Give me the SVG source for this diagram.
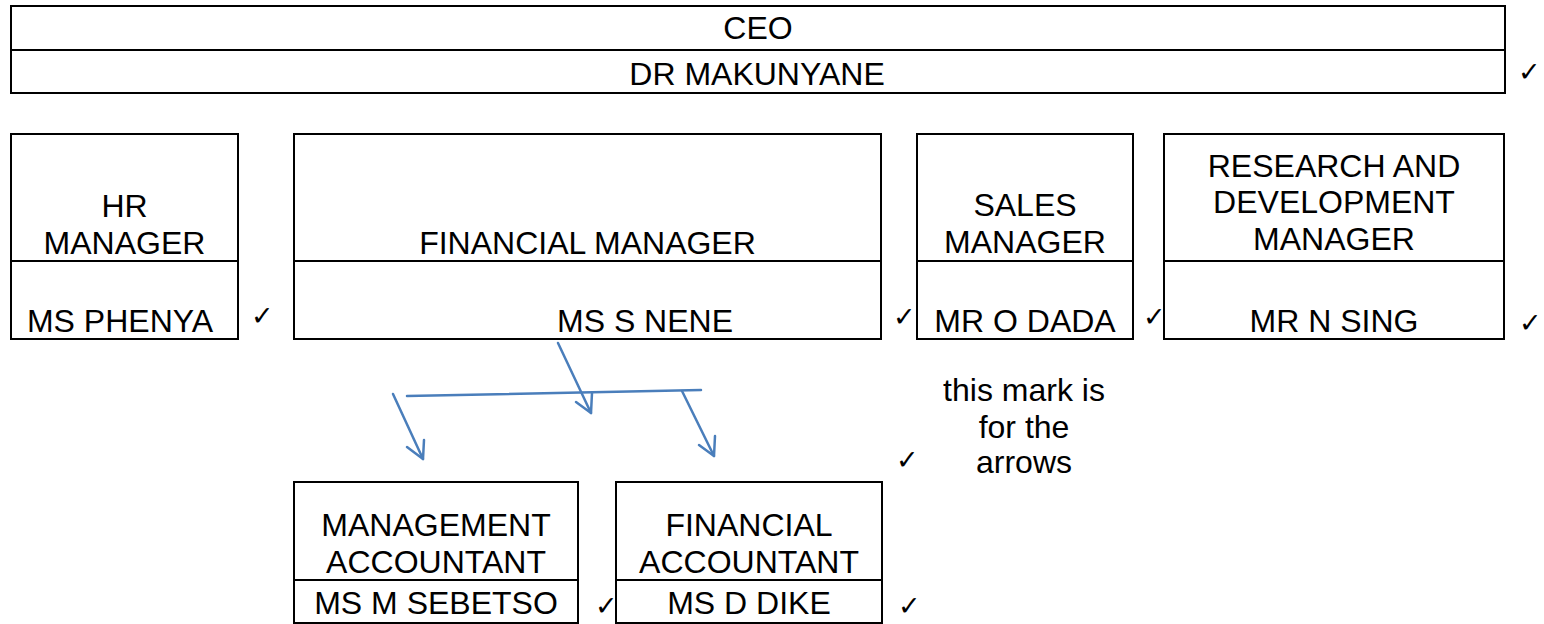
<svg xmlns="http://www.w3.org/2000/svg" width="1544" height="624" viewBox="0 0 1544 624">
<style>
rect.box{fill:#fff;stroke:#000;stroke-width:2}
line.div{stroke:#000;stroke-width:2}
text{font-family:"Liberation Sans",Arial,sans-serif;font-size:32px;fill:#000;text-anchor:middle}
text.ck{font-family:"DejaVu Sans",sans-serif;font-size:27px;text-anchor:start}
.conn line,.conn polyline{stroke:#4A7EBB;stroke-width:2.5;fill:none;stroke-linecap:round;stroke-linejoin:round}
</style>
<rect width="1544" height="624" fill="#fff"/>
<g id="ceo">
<rect class="box" x="11" y="6" width="1494" height="87"/>
<line class="div" x1="11" y1="50" x2="1505" y2="50"/>
<text x="758" y="39">CEO</text>
<text x="757" y="85">DR MAKUNYANE</text>
<text class="ck" x="1518" y="81">✓</text>
</g>
<g id="hr">
<rect class="box" x="11" y="134" width="227" height="205"/>
<line class="div" x1="11" y1="261" x2="238" y2="261"/>
<text x="124.5" y="217">HR</text>
<text x="124.5" y="254">MANAGER</text>
<text x="120" y="332">MS PHENYA</text>
<text class="ck" x="251" y="325">✓</text>
</g>
<g id="financial-manager">
<rect class="box" x="294" y="134" width="587" height="205"/>
<line class="div" x1="294" y1="261" x2="881" y2="261"/>
<text x="587.5" y="254">FINANCIAL MANAGER</text>
<text x="645" y="332">MS S NENE</text>
<text class="ck" x="893" y="326">✓</text>
</g>
<g id="sales">
<rect class="box" x="917" y="134" width="216" height="205"/>
<line class="div" x1="917" y1="261" x2="1133" y2="261"/>
<text x="1025" y="216">SALES</text>
<text x="1025" y="253">MANAGER</text>
<text x="1025" y="332">MR O DADA</text>
<text class="ck" x="1143" y="326">✓</text>
</g>
<g id="rnd">
<rect class="box" x="1164" y="134" width="340" height="205"/>
<line class="div" x1="1164" y1="261" x2="1504" y2="261"/>
<text x="1334" y="177">RESEARCH AND</text>
<text x="1334" y="213">DEVELOPMENT</text>
<text x="1334" y="250">MANAGER</text>
<text x="1334" y="332">MR N SING</text>
<text class="ck" x="1519" y="332">✓</text>
</g>
<g id="note">
<text x="1024" y="401">this mark is</text>
<text x="1024" y="438">for the</text>
<text x="1024" y="473">arrows</text>
<text class="ck" x="896" y="469">✓</text>
</g>
<g id="management-accountant">
<rect class="box" x="294" y="482" width="284" height="141"/>
<line class="div" x1="294" y1="580" x2="578" y2="580"/>
<text x="436" y="536">MANAGEMENT</text>
<text x="436" y="573">ACCOUNTANT</text>
<text x="436" y="614">MS M SEBETSO</text>
<text class="ck" x="595" y="615">✓</text>
</g>
<g id="financial-accountant">
<rect class="box" x="616" y="482" width="266" height="141"/>
<line class="div" x1="616" y1="580" x2="882" y2="580"/>
<text x="749" y="536">FINANCIAL</text>
<text x="749" y="573">ACCOUNTANT</text>
<text x="749" y="614">MS D DIKE</text>
<text class="ck" x="898" y="615">✓</text>
</g>
<g id="connectors" class="conn">
<line x1="407" y1="396" x2="701" y2="390"/>
<line x1="558" y1="343" x2="591" y2="413"/>
<polyline points="576,402 591,413 592,393"/>
<line x1="393" y1="394" x2="423" y2="459"/>
<polyline points="407,447 423,459 424,440"/>
<line x1="682" y1="391" x2="714" y2="456"/>
<polyline points="699,445 714,456 715,436"/>
</g>
</svg>
